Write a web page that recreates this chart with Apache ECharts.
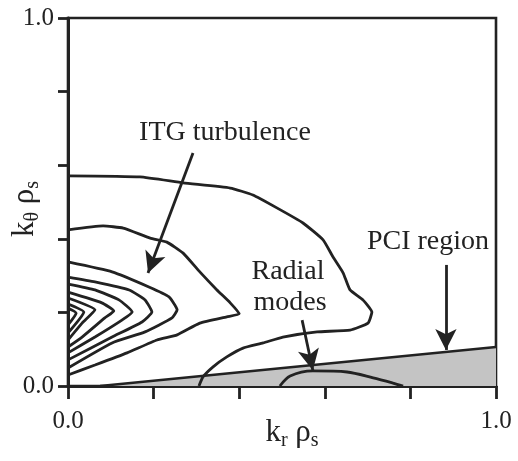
<!DOCTYPE html>
<html><head><meta charset="utf-8">
<script src="https://cdn.jsdelivr.net/npm/echarts@6/dist/echarts.min.js"></script>
<style>html,body{margin:0;padding:0;background:#fff}#c{width:518px;height:461px}</style>
</head><body><div id="c"></div>
<script>
// axis ticks (value space)
const xTickValues = [0, 0.2, 0.4, 0.6, 0.8, 1.0];
const yTickValues = [0, 0.2, 0.4, 0.6, 0.8, 1.0];
const labeledTicks = [0, 1];

// contour lines [k_r rho_s, k_theta rho_s], outermost first
const contour1 = [[0,0.571],[0.168,0.568],[0.269,0.552],[0.379,0.538],[0.432,0.519],[0.488,0.484],[0.549,0.443],[0.596,0.397],[0.619,0.351],[0.643,0.307],[0.659,0.261],[0.689,0.234],[0.710,0.201],[0.701,0.171],[0.659,0.152],[0.582,0.147],[0.502,0.133],[0.456,0.117],[0.409,0.103],[0.371,0.079],[0.339,0.052],[0.315,0.024],[0.306,0]];
const contour2 = [[0,0.424],[0.082,0.435],[0.129,0.429],[0.192,0.402],[0.231,0.391],[0.269,0.361],[0.308,0.310],[0.348,0.261],[0.379,0.226],[0.400,0.196],[0.371,0.188],[0.308,0.171],[0.255,0.139],[0.208,0.125],[0.138,0.090],[0.063,0.057],[0,0.030]];
const contour3 = [[0,0.337],[0.103,0.310],[0.189,0.269],[0.236,0.242],[0.255,0.207],[0.243,0.185],[0.180,0.147],[0.103,0.117],[0,0.049]];
const contour4 = [[0,0.296],[0.063,0.283],[0.143,0.261],[0.180,0.234],[0.196,0.201],[0.173,0.174],[0.103,0.133],[0,0.071]];
const contour5 = [[0,0.277],[0.063,0.261],[0.119,0.234],[0.150,0.201],[0.126,0.179],[0.063,0.133],[0,0.090]];
const contour6 = [[0,0.255],[0.079,0.226],[0.107,0.204],[0.086,0.185],[0.033,0.133],[0,0.106]];
const contour7 = [[0,0.239],[0.063,0.207],[0.033,0.171],[0,0.125]];
const contour8 = [[0,0.223],[0.037,0.201],[0,0.144]];
const contour9 = [[0,0.212],[0.019,0.198],[0,0.166]];
const contours = [contour1, contour2, contour3, contour4, contour5, contour6, contour7, contour8, contour9];

// radial modes contour
const radialModes = [[0.495,0],[0.519,0.027],[0.572,0.041],[0.652,0.038],[0.713,0.022],[0.759,0.008],[0.783,0]];

// PCI region upper boundary
const pciEdge = [[0.075,0],[1.0,0.106]];

// annotation arrows [from, to]
const arrowITG = [[0.292,0.633],[0.187,0.307]];
const arrowRadial = [[0.547,0.179],[0.572,0.043]];
const arrowPCI = [[0.883,0.329],[0.883,0.098]];

const INK = '#222';
const FONT = 'Liberation Serif';

const chart = echarts.init(document.getElementById('c'), null, {renderer:'canvas'});

const lineSeries = contours.map(c => ({
  type:'line', data:c, symbol:'none', smooth:0.15, silent:true,
  lineStyle:{color:INK, width:2.8}, z:3
}));

function isLabeled(v){ return labeledTicks.some(t => Math.abs(t - v) < 1e-6); }

const axisCommon = {
  type:'value', min:0, max:1, interval:0.2,
  axisLine:{show:true, lineStyle:{color:INK, width:3}},
  splitLine:{show:false},
  axisLabel:{fontFamily:FONT, fontSize:25, color:INK,
    formatter: v => isLabeled(v) ? v.toFixed(1) : ''}
};

const option = {
  backgroundColor:'#fff',
  animation:false,
  grid:{left:68, right:22, top:18, bottom:75, show:true, borderColor:INK, borderWidth:2.6, backgroundColor:'transparent'},
  xAxis:Object.assign({}, axisCommon, {
    axisTick:{show:true, inside:false, length:13, lineStyle:{color:INK, width:2.8}},
    axisLabel:Object.assign({}, axisCommon.axisLabel, {margin:23})
  }),
  yAxis:Object.assign({}, axisCommon, {
    axisTick:{show:true, inside:false, length:10, lineStyle:{color:INK, width:2.8}},
    axisLabel:Object.assign({}, axisCommon.axisLabel, {margin:14})
  }),
  series:[
    {type:'line', data:pciEdge, symbol:'none', silent:true,
     lineStyle:{color:INK, width:2.4}, areaStyle:{color:'#c4c4c4', opacity:1}, z:2,
     markLine:{silent:true, symbol:['none','arrow'], symbolSize:[16,21],
       lineStyle:{color:INK, width:2.8, type:'solid'}, label:{show:false},
       data:[arrowITG, arrowRadial, arrowPCI].map(a => [{coord:a[0]},{coord:a[1]}])}
    },
    {type:'line', data:radialModes, symbol:'none', smooth:0.3, silent:true,
     lineStyle:{color:INK, width:2.8}, z:3},
    ...lineSeries
  ],
  graphic:[
    {type:'text', x:225, y:133, silent:true,
     style:{text:'ITG turbulence', fontFamily:FONT, fontSize:28, fill:INK, align:'center', verticalAlign:'middle'}},
    {type:'text', x:288, y:272, silent:true,
     style:{text:'Radial', fontFamily:FONT, fontSize:28, fill:INK, align:'center', verticalAlign:'middle'}},
    {type:'text', x:290, y:303, silent:true,
     style:{text:'modes', fontFamily:FONT, fontSize:28, fill:INK, align:'center', verticalAlign:'middle'}},
    {type:'text', x:428, y:242, silent:true,
     style:{text:'PCI region', fontFamily:FONT, fontSize:28, fill:INK, align:'center', verticalAlign:'middle'}},
    {type:'text', x:292, y:433, silent:true,
     style:{text:'{k|k}{s|r}{k| ρ}{s|s}', align:'center', verticalAlign:'middle', fill:INK,
       rich:{k:{fontFamily:FONT, fontSize:31, fill:INK, lineHeight:34},
             s:{fontFamily:FONT, fontSize:20, fill:INK, lineHeight:20, padding:[16,0,0,0]}}}},
    {type:'text', x:25, y:209, rotation:Math.PI/2, silent:true,
     style:{text:'{k|k}{s|θ}{k| ρ}{s|s}', align:'center', verticalAlign:'middle', fill:INK,
       rich:{k:{fontFamily:FONT, fontSize:31, fill:INK, lineHeight:34},
             s:{fontFamily:FONT, fontSize:20, fill:INK, lineHeight:20, padding:[16,0,0,0]}}}}
  ]
};
chart.setOption(option);
</script>
</body></html>
